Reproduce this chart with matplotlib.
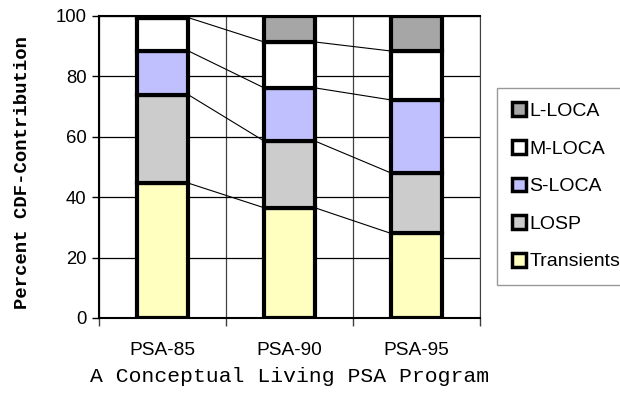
import numpy as np
import matplotlib.pyplot as plt
from matplotlib.patches import Patch

programs = ["PSA-85", "PSA-90", "PSA-95"]
series = ["Transients", "LOSP", "S-LOCA", "M-LOCA", "L-LOCA"]
transients = [44.7, 36.5, 28.0]
losp = [29.3, 22.1, 20.0]
s_loca = [14.5, 17.6, 24.2]
m_loca = [11.0, 15.2, 16.2]
l_loca = [0.5, 8.6, 11.6]
colors = ["#FFFFC0", "#CCCCCC", "#C0C0FF", "#FFFFFF", "#A6A6A6"]

values = np.array([transients, losp, s_loca, m_loca, l_loca])

plt.rcParams["font.family"] = ["Liberation Sans"]
fig = plt.figure(figsize=(6.2, 3.96), dpi=100)
ax = fig.add_axes([0.1597, 0.197, 0.6145, 0.7626])

x = np.arange(len(programs))
w = 0.4
bottom = np.zeros(len(programs))
for vals, c in zip(values, colors):
    ax.bar(x, vals, w, bottom=bottom, color=c, edgecolor="black", linewidth=3, zorder=3)
    top = bottom + vals
    # series lines joining segment tops between neighbouring stacks
    for i in range(len(programs) - 1):
        ax.plot([x[i] + w / 2, x[i + 1] - w / 2], [top[i], top[i + 1]],
                color="black", linewidth=0.8, zorder=2)
    bottom = top

ax.set_xlim(-0.5, 2.5)
ax.set_ylim(0, 100)
ax.set_yticks(range(0, 101, 20))
ax.set_xticks(x)
ax.set_xticklabels(programs, fontsize=13.8)
ax.set_xticks([-0.5, 0.5, 1.5, 2.5], minor=True)
ax.tick_params(axis="x", which="major", length=0, pad=17)
ax.tick_params(axis="x", which="minor", length=6, width=1, color="#404040")
ax.tick_params(axis="y", length=5, width=1, labelsize=13.3, pad=4)
ax.grid(axis="y", color="black", linewidth=0.9, zorder=0)
ax.grid(axis="x", which="minor", color="#404040", linewidth=0.9, zorder=0)
ax.set_axisbelow(True)
for side in ["left", "bottom", "top"]:
    ax.spines[side].set_linewidth(1.5)
ax.spines["right"].set_color("#404040")

ax.set_ylabel("Percent CDF-Contribution", family="Liberation Mono",
              fontweight="bold", fontsize=13.6)
ax.yaxis.set_label_coords(-0.178, 0.483)
ax.set_xlabel("A Conceptual Living PSA Program", family="Liberation Mono",
              fontsize=15.4, labelpad=6)

handles = [Patch(facecolor=c, edgecolor="black", linewidth=2.5, label=s)
           for s, c in zip(series, colors)][::-1]
leg = fig.legend(handles=handles, loc="upper left", bbox_to_anchor=(0.8016, 0.778),
                 fontsize=14, frameon=True, fancybox=False, handlelength=0.72,
                 handleheight=0.72, handletextpad=0.2, labelspacing=1.02,
                 borderpad=0.75, borderaxespad=0)
leg.get_frame().set_edgecolor("#808080")
leg.get_frame().set_linewidth(1)

fig.savefig("out.png", dpi=100)
